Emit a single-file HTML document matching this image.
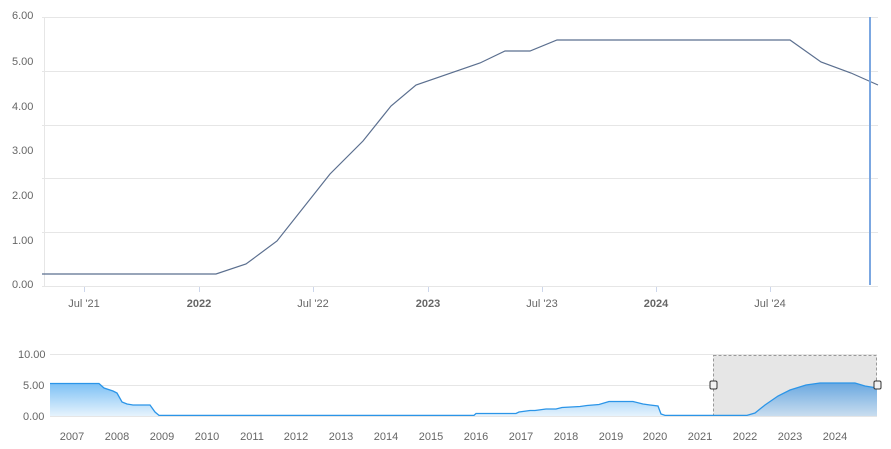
<!DOCTYPE html>
<html><head><meta charset="utf-8"><style>
html,body{margin:0;padding:0;background:#fff;}
svg{display:block;font-family:"Liberation Sans",Arial,sans-serif;}
</style></head><body>
<svg width="891" height="449" viewBox="0 0 891 449" xmlns="http://www.w3.org/2000/svg">
<defs>
<linearGradient id="g1" x1="0" y1="0" x2="0" y2="1"><stop offset="0" stop-color="#7cc0f5"/><stop offset="1" stop-color="#e6f3fd"/></linearGradient>
<linearGradient id="g2" x1="0" y1="0" x2="0" y2="1"><stop offset="0" stop-color="#6aa8e0"/><stop offset="1" stop-color="#c9ddef"/></linearGradient>
<clipPath id="sel"><rect x="713" y="355" width="164" height="61"/></clipPath>
</defs>
<!-- main grid -->
<g stroke="#e6e6e6" stroke-width="1">
<line x1="42" y1="17.5" x2="878" y2="17.5"/>
<line x1="42" y1="71.5" x2="878" y2="71.5"/>
<line x1="42" y1="125.5" x2="878" y2="125.5"/>
<line x1="42" y1="178.5" x2="878" y2="178.5"/>
<line x1="42" y1="232.5" x2="878" y2="232.5"/>
<line x1="42" y1="286.5" x2="878" y2="286.5"/>
<line x1="44.5" y1="17" x2="44.5" y2="287"/>
</g>
<g stroke="#ccd6eb"><line x1="84.5" y1="287" x2="84.5" y2="292"/><line x1="199.5" y1="287" x2="199.5" y2="292"/><line x1="313.5" y1="287" x2="313.5" y2="292"/><line x1="428.5" y1="287" x2="428.5" y2="292"/><line x1="542.5" y1="287" x2="542.5" y2="292"/><line x1="656.5" y1="287" x2="656.5" y2="292"/><line x1="770.5" y1="287" x2="770.5" y2="292"/></g>
<g fill="#666" font-size="11" text-anchor="start">
<text x="12" y="19">6.00</text><text x="12" y="65">5.00</text><text x="12" y="110">4.00</text><text x="12" y="154">3.00</text><text x="12" y="199">2.00</text><text x="12" y="244">1.00</text><text x="12" y="288">0.00</text>
</g>
<g fill="#666" font-size="11" text-anchor="middle">
<text x="84" y="307">Jul '21</text><text x="199" y="307" font-weight="bold">2022</text><text x="313" y="307">Jul '22</text><text x="428" y="307" font-weight="bold">2023</text><text x="542" y="307">Jul '23</text><text x="656" y="307" font-weight="bold">2024</text><text x="770" y="307">Jul '24</text>
</g>
<polyline fill="none" stroke="#5b6f8f" stroke-width="1.2" points="42,274 216,274 246,264 277,241 330,174 363,141 391,106 416,85 480,63 505,51 530,51 557,40 790,40 821,62 851,73 878,85"/>
<line x1="870" y1="17" x2="870" y2="285" stroke="#7ba7e1" stroke-width="2"/>
<!-- navigator -->
<g stroke="#e6e6e6"><line x1="50" y1="354.5" x2="877" y2="354.5"/><line x1="50" y1="385.5" x2="877" y2="385.5"/><line x1="50" y1="416.5" x2="877" y2="416.5"/></g>
<g fill="#666" font-size="11"><text x="18" y="358">10.00</text><text x="23" y="389">5.00</text><text x="23" y="420">0.00</text></g>
<g fill="#666" font-size="11" text-anchor="middle">
<text x="72" y="440">2007</text><text x="117" y="440">2008</text><text x="162" y="440">2009</text><text x="207" y="440">2010</text><text x="252" y="440">2011</text><text x="296" y="440">2012</text><text x="341" y="440">2013</text><text x="386" y="440">2014</text><text x="431" y="440">2015</text><text x="476" y="440">2016</text><text x="521" y="440">2017</text><text x="566" y="440">2018</text><text x="611" y="440">2019</text><text x="655" y="440">2020</text><text x="700" y="440">2021</text><text x="745" y="440">2022</text><text x="790" y="440">2023</text><text x="835" y="440">2024</text>
</g>
<rect x="713.5" y="355.5" width="163" height="60" fill="#e6e6e6" stroke="#999" stroke-dasharray="3,2"/>
<g id="nav">
<polygon fill="url(#g1)" points="50,416 50,383.5 99,383.5 104,388 113,391 117,393 122,402 127,404 133,405 150,405 155,412 159,415.4 474,415.4 476,413.5 516,413.5 519,412 530,410.5 535,410.5 546,409 556,409 562,407.5 580,406.5 587,405.5 599,404.5 609,401.5 633,401.5 643,404 650,405 658,406 661,414 665,415.4 747,415.4 755,413 765,405 778,396 790,390 806,385 820,383 855,383 865,386 877,388 877,416"/>
</g>
<polygon clip-path="url(#sel)" fill="url(#g2)" points="713,416 713,415.4 747,415.4 755,413 765,405 778,396 790,390 806,385 820,383 855,383 865,386 877,388 877,416"/>
<polyline fill="none" stroke="#2b95e8" stroke-width="1.3" points="50,383.5 99,383.5 104,388 113,391 117,393 122,402 127,404 133,405 150,405 155,412 159,415.4 474,415.4 476,413.5 516,413.5 519,412 530,410.5 535,410.5 546,409 556,409 562,407.5 580,406.5 587,405.5 599,404.5 609,401.5 633,401.5 643,404 650,405 658,406 661,414 665,415.4 747,415.4 755,413 765,405 778,396 790,390 806,385 820,383 855,383 865,386 877,388"/>
<rect x="710" y="381" width="7" height="8" rx="1.5" fill="#f2f2f2" stroke="#333"/>
<rect x="874" y="381" width="7" height="8" rx="1.5" fill="#f2f2f2" stroke="#333"/>
</svg>
</body></html>
